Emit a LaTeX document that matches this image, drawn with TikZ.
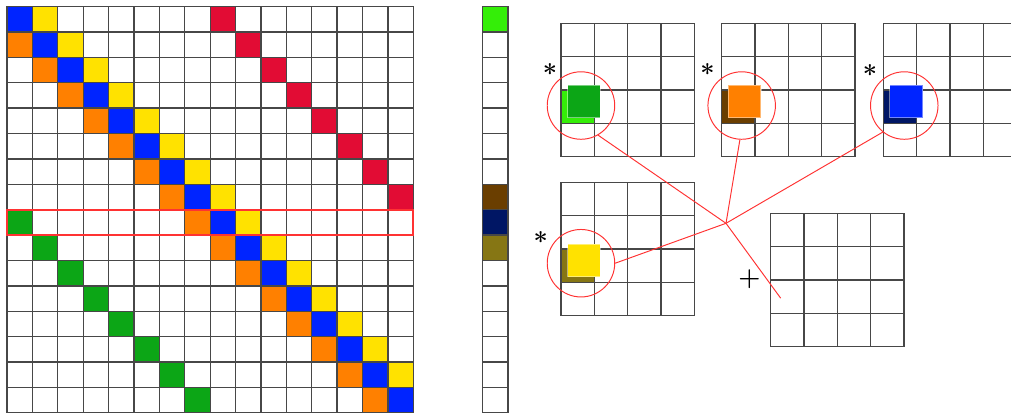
\documentclass[tikz,border=0pt]{standalone}
\usepackage{xcolor}
\usepackage{tikz}
\usetikzlibrary{positioning}
\definecolor{blue}{RGB}{0,36,255}
\definecolor{yellow}{RGB}{255,226,0}
\definecolor{orange}{RGB}{255,128,0}
\definecolor{red}{RGB}{226,12,52}
\definecolor{green}{RGB}{12,166,22}
\definecolor{lime}{RGB}{52,238,8}
\definecolor{brown}{RGB}{106,62,0}
\definecolor{navy}{RGB}{0,22,100}
\definecolor{olive}{RGB}{134,118,20}
\definecolor{hilite}{RGB}{255,50,50}

\begin{document}
\begin{tikzpicture}[x=.02cm,y=-.02cm,
  cell/.style={draw=black!72,line width=.75pt},
  ring/.style={circle,draw=hilite,line width=.55pt,minimum size=1.35cm,inner sep=0pt},
  wire/.style={draw=hilite,line width=.55pt},
  front/.style={draw=white,draw opacity=.45,line width=.6pt},
  sym/.style={font=\Large\bfseries,inner sep=0pt}]
\clip (0,0) rectangle (1011,416);
\begin{scope}[shift={(7,6.5)},x=.508cm,y=-.508cm]
\foreach \r in {0,...,15} \foreach \c in {0,...,15} \draw[cell] (\c,\r) rectangle ++(1,1);
\foreach \r in {0,...,15} \draw[cell,fill=blue] (\r,\r) rectangle ++(1,1);
\foreach \r in {0,...,14} \draw[cell,fill=yellow] (\r+1,\r) rectangle ++(1,1);
\foreach \r in {1,...,15} \draw[cell,fill=orange] (\r-1,\r) rectangle ++(1,1);
\foreach \r in {0,...,7} \draw[cell,fill=red] (\r+8,\r) rectangle ++(1,1);
\foreach \r in {8,...,15} \draw[cell,fill=green] (\r-8,\r) rectangle ++(1,1);
\draw[hilite,line width=1.1pt] (0,8) rectangle (16,9);
\end{scope}
\begin{scope}[shift={(482.5,6.5)},x=.508cm,y=-.508cm]
\foreach \r in {0,...,15} \draw[cell] (0,\r) rectangle ++(1,1);
\draw[cell,fill=lime] (0,0) rectangle ++(1,1);
\draw[cell,fill=brown] (0,7) rectangle ++(1,1);
\draw[cell,fill=navy] (0,8) rectangle ++(1,1);
\draw[cell,fill=olive] (0,9) rectangle ++(1,1);
\end{scope}
% neighbour blocks
\begin{scope}[shift={(561,23.3)},x=.666cm,y=-.666cm]
\fill[lime] (0,2) rectangle (1,3);
\foreach \r in {0,...,3} \foreach \c in {0,...,3} \draw[cell] (\c,\r) rectangle ++(1,1);
\filldraw[green,front] (.2,1.86) rectangle ++(.98,.98);
\node[ring] (ringA) at (.6,2.47) {};
\node[sym] (starA) at (-.33,1.5) {*};
\end{scope}
\begin{scope}[shift={(721.7,23.3)},x=.666cm,y=-.666cm]
\fill[brown] (0,2) rectangle (1,3);
\foreach \r in {0,...,3} \foreach \c in {0,...,3} \draw[cell] (\c,\r) rectangle ++(1,1);
\filldraw[orange,front] (.2,1.86) rectangle ++(.98,.98);
\node[ring] (ringB) at (.6,2.47) {};
\node[sym] (starB) at (-.43,1.5) {*};
\end{scope}
\begin{scope}[shift={(883.3,23.3)},x=.666cm,y=-.666cm]
\fill[navy] (0,2) rectangle (1,3);
\foreach \r in {0,...,3} \foreach \c in {0,...,3} \draw[cell] (\c,\r) rectangle ++(1,1);
\filldraw[blue,front] (.2,1.86) rectangle ++(.98,.98);
\node[ring] (ringC) at (.63,2.47) {};
\node[sym] (starC) at (-.4,1.52) {*};
\end{scope}
\begin{scope}[shift={(561,182.3)},x=.666cm,y=-.666cm]
\fill[olive] (0,2) rectangle (1,3);
\foreach \r in {0,...,3} \foreach \c in {0,...,3} \draw[cell] (\c,\r) rectangle ++(1,1);
\filldraw[yellow,front] (.2,1.86) rectangle ++(.98,.98);
\node[ring] (ringD) at (.6,2.43) {};
\node[sym] (starD) at (-.61,1.75) {*};
\end{scope}
% result block
\begin{scope}[shift={(770.7,213.3)},x=.666cm,y=-.666cm]
\foreach \r in {0,...,3} \foreach \c in {0,...,3} \draw[cell] (\c,\r) rectangle ++(1,1);
\node[sym] (plusE) at (-.64,1.98) {+};
\coordinate (sumE) at (.3,2.55);
\end{scope}
\coordinate (hub) at (726,223.3);
\draw[wire] (ringA.300) -- (hub);
\draw[wire] (ringB.267) -- (hub);
\draw[wire] (ringC.231) -- (hub);
\draw[wire] (ringD.0) -- (hub);
\draw[wire] (hub) -- (sumE);
\end{tikzpicture}
\end{document}
